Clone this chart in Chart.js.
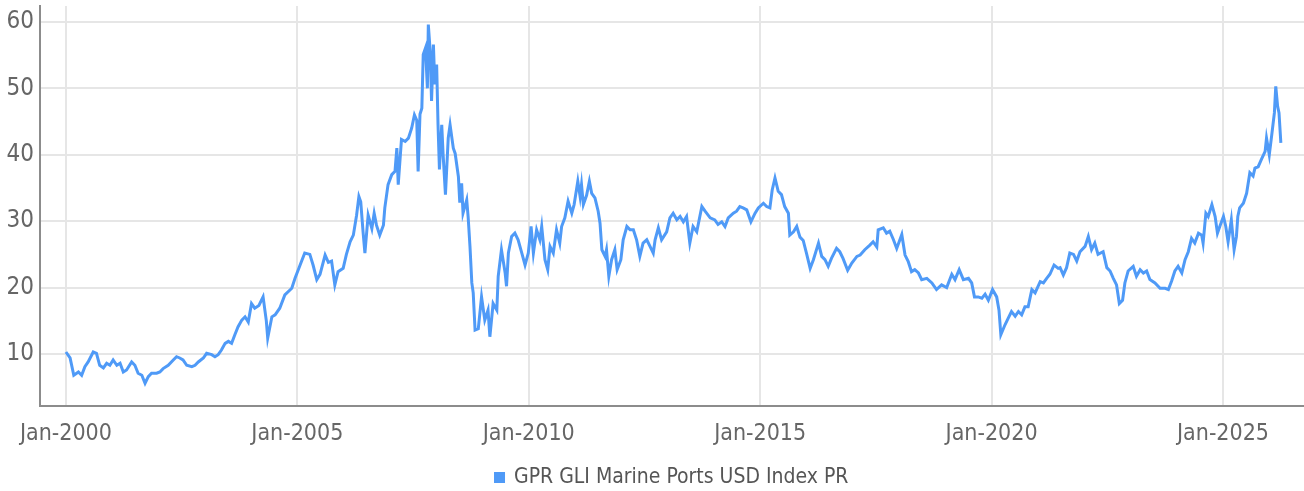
<!DOCTYPE html>
<html>
<head>
<meta charset="utf-8">
<script src="https://cdn.jsdelivr.net/npm/chart.js@4"></script>
<style>
  html, body { margin: 0; padding: 0; background: #fff; }
  #wrap { width: 1304px; height: 491px; }
</style>
</head>
<body>
<div id="wrap"><canvas id="portsChart" width="1304" height="491"></canvas></div>
<script>
// GPR GLI Marine Ports USD Index PR
const seriesName = 'GPR GLI Marine Ports USD Index PR';

// dates as decimal years
const dates = [
  2000.00, 2000.09, 2000.17, 2000.27, 2000.34, 2000.41, 2000.48, 2000.59, 2000.66, 2000.73,
  2000.81, 2000.88, 2000.95, 2001.02, 2001.10, 2001.17, 2001.24, 2001.31, 2001.42, 2001.49,
  2001.56, 2001.64, 2001.71, 2001.78, 2001.85, 2001.96, 2002.03, 2002.10, 2002.21, 2002.32,
  2002.39, 2002.46, 2002.53, 2002.61, 2002.72, 2002.79, 2002.86, 2002.97, 2003.04, 2003.15,
  2003.22, 2003.29, 2003.36, 2003.44, 2003.51, 2003.58, 2003.65, 2003.72, 2003.80, 2003.87,
  2003.94, 2004.01, 2004.08, 2004.17, 2004.26, 2004.33, 2004.36, 2004.45, 2004.52, 2004.62,
  2004.73, 2004.88, 2004.95, 2005.06, 2005.16, 2005.27, 2005.34, 2005.42, 2005.49, 2005.60,
  2005.67, 2005.74, 2005.81, 2005.88, 2005.99, 2006.06, 2006.14, 2006.21, 2006.28, 2006.33,
  2006.37, 2006.42, 2006.46, 2006.53, 2006.61, 2006.66, 2006.71, 2006.78, 2006.86, 2006.89,
  2006.96, 2007.04, 2007.11, 2007.15, 2007.18, 2007.25, 2007.33, 2007.40, 2007.47, 2007.53,
  2007.58, 2007.61, 2007.65, 2007.69, 2007.72, 2007.77, 2007.81, 2007.83, 2007.87, 2007.90,
  2007.94, 2007.97, 2008.01, 2008.04, 2008.07, 2008.12, 2008.15, 2008.20, 2008.26, 2008.30,
  2008.37, 2008.41, 2008.48, 2008.51, 2008.55, 2008.58, 2008.66, 2008.69, 2008.73, 2008.77,
  2008.80, 2008.84, 2008.91, 2008.98, 2009.05, 2009.12, 2009.16, 2009.23, 2009.31, 2009.34,
  2009.41, 2009.49, 2009.52, 2009.56, 2009.63, 2009.70, 2009.77, 2009.85, 2009.92, 2009.99,
  2010.05, 2010.10, 2010.17, 2010.24, 2010.28, 2010.35, 2010.41, 2010.46, 2010.53, 2010.60,
  2010.67, 2010.71, 2010.78, 2010.85, 2010.93, 2010.98, 2011.06, 2011.11, 2011.14, 2011.18,
  2011.25, 2011.31, 2011.36, 2011.43, 2011.50, 2011.54, 2011.58, 2011.65, 2011.68, 2011.73,
  2011.79, 2011.86, 2011.91, 2011.99, 2012.04, 2012.12, 2012.19, 2012.26, 2012.33, 2012.40,
  2012.47, 2012.55, 2012.62, 2012.69, 2012.73, 2012.80, 2012.87, 2012.98, 2013.05, 2013.12,
  2013.20, 2013.27, 2013.34, 2013.41, 2013.48, 2013.55, 2013.63, 2013.74, 2013.81, 2013.92,
  2014.02, 2014.09, 2014.17, 2014.24, 2014.31, 2014.42, 2014.49, 2014.56, 2014.63, 2014.71,
  2014.80, 2014.89, 2014.96, 2015.07, 2015.14, 2015.21, 2015.26, 2015.32, 2015.39, 2015.46,
  2015.53, 2015.61, 2015.64, 2015.72, 2015.79, 2015.86, 2015.93, 2016.00, 2016.08, 2016.15,
  2016.26, 2016.33, 2016.40, 2016.47, 2016.54, 2016.65, 2016.72, 2016.79, 2016.89, 2016.98,
  2017.09, 2017.16, 2017.26, 2017.37, 2017.44, 2017.52, 2017.55, 2017.66, 2017.73, 2017.80,
  2017.88, 2017.95, 2018.06, 2018.13, 2018.20, 2018.27, 2018.34, 2018.42, 2018.49, 2018.60,
  2018.71, 2018.81, 2018.92, 2019.03, 2019.14, 2019.21, 2019.30, 2019.39, 2019.50, 2019.57,
  2019.63, 2019.71, 2019.79, 2019.86, 2019.93, 2020.02, 2020.11, 2020.16, 2020.20, 2020.29,
  2020.36, 2020.43, 2020.51, 2020.58, 2020.65, 2020.72, 2020.79, 2020.87, 2020.94, 2021.05,
  2021.12, 2021.19, 2021.26, 2021.35, 2021.44, 2021.48, 2021.55, 2021.62, 2021.69, 2021.77,
  2021.84, 2021.91, 2022.02, 2022.09, 2022.16, 2022.23, 2022.30, 2022.41, 2022.49, 2022.56,
  2022.63, 2022.70, 2022.76, 2022.83, 2022.88, 2022.95, 2023.06, 2023.13, 2023.21, 2023.28,
  2023.35, 2023.42, 2023.53, 2023.64, 2023.75, 2023.82, 2023.89, 2023.96, 2024.03, 2024.11,
  2024.18, 2024.25, 2024.32, 2024.39, 2024.47, 2024.54, 2024.57, 2024.63, 2024.68, 2024.76,
  2024.83, 2024.88, 2024.94, 2025.01, 2025.06, 2025.11, 2025.18, 2025.24, 2025.29, 2025.32,
  2025.36, 2025.44, 2025.51, 2025.58, 2025.65, 2025.69, 2025.76, 2025.83, 2025.91, 2025.94,
  2026.00, 2026.05, 2026.11, 2026.14, 2026.18, 2026.21, 2026.25
];

const values = [
  10.3, 9.4, 6.8, 7.3, 6.8, 8.1, 8.8, 10.3, 10.1, 8.3,
  7.9, 8.6, 8.3, 9.1, 8.3, 8.6, 7.3, 7.6, 8.8, 8.3,
  7.1, 6.8, 5.6, 6.6, 7.1, 7.1, 7.3, 7.8, 8.3, 9.1,
  9.6, 9.4, 9.1, 8.3, 8.1, 8.3, 8.8, 9.4, 10.1, 9.9,
  9.6, 9.9, 10.6, 11.6, 11.9, 11.6, 12.9, 14.1, 15.1, 15.6,
  14.8, 17.6, 16.9, 17.3, 18.6, 15.0, 12.4, 15.6, 15.9, 16.9,
  18.9, 19.9, 21.4, 23.4, 25.2, 25.0, 23.4, 21.2, 22.0, 24.9,
  23.8, 24.0, 20.4, 22.4, 22.9, 25.0, 26.9, 27.9, 30.9, 33.7,
  32.9, 28.4, 25.2, 30.9, 28.9, 31.2, 29.4, 27.9, 29.4, 32.0,
  35.5, 37.0, 37.5, 41.0, 35.5, 42.3, 42.0, 42.5, 44.0, 46.0,
  45.2, 37.5, 46.1, 47.0, 55.1, 56.1, 50.0, 59.6, 55.6, 48.1,
  56.6, 50.6, 53.6, 44.5, 37.8, 44.5, 40.0, 34.0, 42.5, 44.5,
  41.0, 40.2, 36.7, 32.8, 35.7, 31.2, 33.2, 30.7, 26.2, 20.7,
  19.2, 13.6, 13.8, 18.6, 15.1, 16.6, 12.6, 17.6, 16.6, 21.7,
  25.7, 22.2, 20.2, 25.2, 27.7, 28.2, 27.2, 25.2, 23.4, 25.2,
  29.2, 25.2, 28.7, 27.2, 29.2, 24.2, 22.7, 26.2, 25.2, 28.7,
  26.7, 29.2, 30.5, 33.0, 31.2, 32.5, 36.0, 33.7, 35.5, 32.5,
  33.9, 36.0, 34.2, 33.5, 31.5, 29.7, 25.7, 24.7, 25.7, 21.7,
  24.2, 25.7, 22.7, 24.2, 27.2, 29.2, 28.7, 28.7, 27.2, 24.7,
  26.7, 27.2, 26.2, 25.2, 27.2, 29.0, 27.2, 28.4, 30.5, 31.2,
  30.2, 30.7, 29.9, 30.7, 26.7, 29.2, 28.4, 32.2, 31.5, 30.5,
  30.2, 29.5, 29.9, 29.2, 30.5, 31.2, 31.5, 32.2, 32.0, 31.7,
  29.9, 31.2, 32.0, 32.7, 32.2, 32.0, 34.7, 36.5, 34.5, 34.0,
  32.2, 31.2, 27.9, 28.4, 29.2, 27.6, 27.1, 25.2, 22.9, 24.2,
  26.7, 24.7, 24.2, 23.2, 24.4, 25.9, 25.4, 24.4, 22.6, 23.7,
  24.7, 24.9, 25.7, 26.4, 26.9, 26.1, 28.7, 29.0, 28.2, 28.5,
  27.2, 25.9, 28.0, 24.9, 23.9, 22.4, 22.7, 22.2, 21.2, 21.4,
  20.7, 19.7, 20.4, 20.0, 22.0, 21.2, 22.7, 21.2, 21.4, 20.7,
  18.6, 18.6, 18.4, 19.0, 18.1, 19.7, 18.6, 16.6, 12.9, 14.4,
  15.4, 16.4, 15.7, 16.4, 15.9, 17.1, 17.1, 19.7, 19.2, 20.9,
  20.7, 21.4, 22.0, 23.4, 22.9, 23.0, 21.9, 23.0, 25.2, 25.0,
  24.0, 25.4, 26.2, 27.7, 25.7, 26.7, 25.0, 25.4, 23.0, 22.5,
  21.4, 20.4, 17.6, 18.1, 20.7, 22.5, 23.2, 21.7, 22.7, 22.2,
  22.5, 21.2, 20.7, 19.9, 19.9, 19.7, 21.0, 22.5, 23.2, 22.2,
  24.2, 25.4, 27.4, 26.7, 28.2, 27.9, 26.7, 31.2, 30.7, 32.5,
  30.7, 28.2, 29.4, 30.7, 29.2, 26.9, 30.2, 25.7, 27.7, 30.7,
  32.0, 32.7, 34.2, 37.3, 36.8, 38.0, 38.2, 39.3, 40.5, 42.5,
  40.0, 42.8, 46.3, 50.3, 47.3, 46.3, 41.8
];

const tickYears = [2000, 2005, 2010, 2015, 2020, 2025];
const yTicks = [10, 20, 30, 40, 50, 60];

const fontFamily = '"Liberation Sans Narrow", "DejaVu Sans Condensed", "Roboto", sans-serif';
const labelColor = '#666666';
const gridColor = '#e6e6e6';
const axisColor = '#8c8c8c';

const points = dates.map((d, i) => ({ x: d, y: values[i] }));

const ctx = document.getElementById('portsChart').getContext('2d');
new Chart(ctx, {
  type: 'line',
  data: {
    datasets: [{
      label: seriesName,
      data: points,
      borderColor: '#4f9af7',
      backgroundColor: '#4f9af7',
      borderWidth: 3,
      pointRadius: 0,
      tension: 0,
      fill: false
    }]
  },
  options: {
    responsive: false,
    animation: false,
    layout: { padding: { top: 6, right: 0, bottom: -7, left: 0 } },
    scales: {
      x: {
        type: 'linear',
        min: 1999.44,
        max: 2026.75,
        afterBuildTicks: (scale) => { scale.ticks = tickYears.map(v => ({ value: v })); },
        afterFit: (scale) => {
          scale.height = 57;
          scale.paddingLeft = 0;
          scale.paddingRight = 0;
        },
        grid: { color: gridColor, lineWidth: 2, drawTicks: false },
        border: { color: axisColor, width: 2 },
        ticks: {
          padding: 14,
          color: labelColor,
          maxRotation: 0,
          autoSkip: false,
          font: { family: fontFamily, size: 23 },
          callback: (v) => 'Jan-' + v
        }
      },
      y: {
        min: 2.17,
        max: 62.4,
        afterBuildTicks: (scale) => { scale.ticks = yTicks.map(v => ({ value: v })); },
        afterFit: (scale) => {
          scale.width = 40;
          scale.paddingTop = 0;
          scale.paddingBottom = 0;
        },
        grid: { color: gridColor, lineWidth: 2, drawTicks: false },
        border: { color: axisColor, width: 2 },
        ticks: {
          padding: 6,
          color: labelColor,
          font: { family: fontFamily, size: 24 }
        }
      }
    },
    plugins: {
      legend: {
        position: 'bottom',
        fullSize: false,
        labels: {
          color: '#555555',
          font: { family: fontFamily, size: 21 },
          boxWidth: 8,
          boxHeight: 8,
          padding: 4
        }
      },
      tooltip: { enabled: false }
    }
  }
});
</script>
</body>
</html>
